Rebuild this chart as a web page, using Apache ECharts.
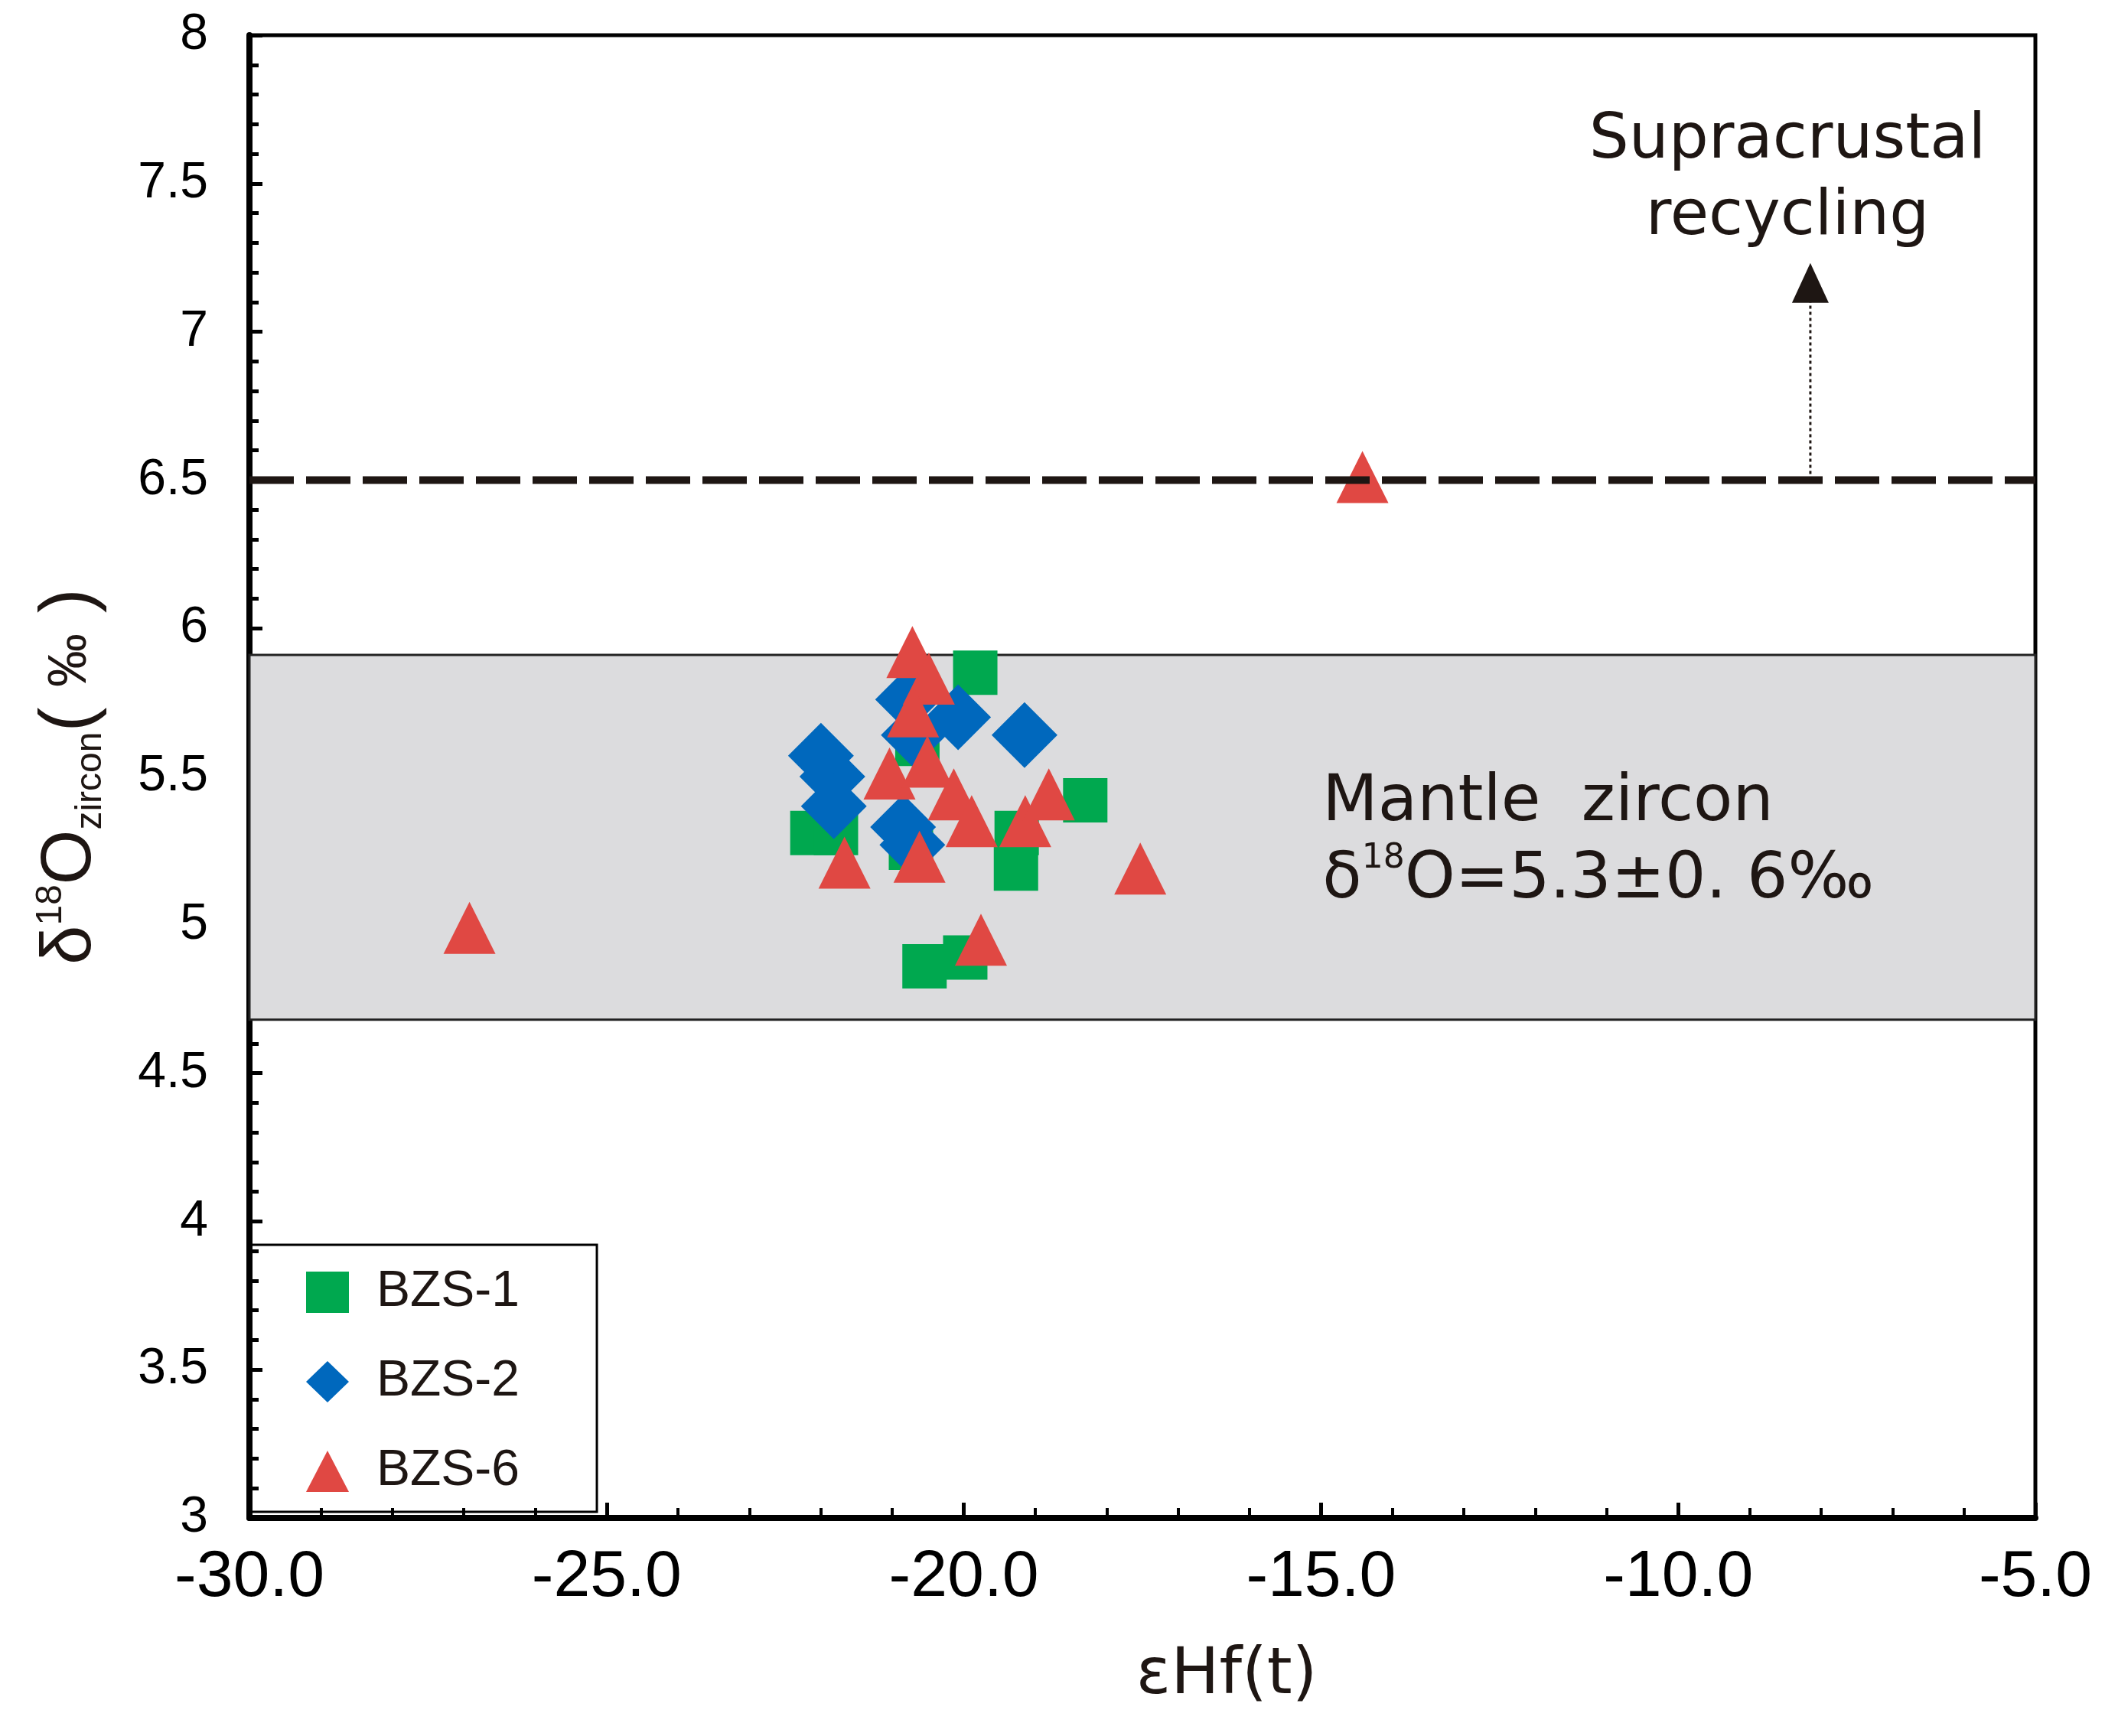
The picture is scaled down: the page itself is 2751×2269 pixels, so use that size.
<html lang="en">
<head>
  <meta charset="utf-8">
  <title>δ18O zircon vs εHf(t)</title>
  <script src="https://cdn.jsdelivr.net/npm/echarts@6/dist/echarts.min.js"></script>
  <style>
    html, body { margin: 0; padding: 0; background: #fff; }
    #main { width: 2751px; height: 2269px; }
  </style>
</head>
<body>
  <div id="main"></div>
</body>
<script>
  // sample points: [eHf(t), d18O]
  var bzs1 = [[-19.84, 5.85], [-18.30, 5.42], [-22.12, 5.31], [-21.79, 5.31], [-20.65, 5.61],
    [-20.74, 5.26], [-19.26, 5.31], [-19.27, 5.19], [-20.55, 4.86], [-19.98, 4.89]];
  var bzs2 = [[-19.15, 5.64], [-20.08, 5.70], [-20.78, 5.76], [-22.00, 5.57], [-21.84, 5.50],
    [-21.82, 5.40], [-20.70, 5.64], [-20.85, 5.33], [-20.72, 5.27]];
  var bzs6 = [[-20.72, 5.92], [-20.49, 5.83], [-20.71, 5.72], [-21.04, 5.51], [-20.51, 5.55],
    [-20.14, 5.44], [-19.89, 5.35], [-19.14, 5.35], [-18.81, 5.44], [-21.67, 5.21],
    [-20.62, 5.23], [-17.53, 5.19], [-19.76, 4.95], [-26.92, 4.99], [-14.42, 6.51]];

  var mantleBand = [4.68, 5.91];      // 5.3 +- 0.6 permil
  var supraLimit = 6.5;
  var arrowX = -8.15;
  var arrowTop = 7.12;
  var xRange = [-30, -5];
  var yRange = [3, 8];

  var FONT = 'Liberation Sans, Arial, sans-serif';
  var WIDE = 'DejaVu Sans, sans-serif';   // annotations in the figure are set wider
  var INK = '#1e1613';

  var myChart = echarts.init(document.getElementById('main'));

  myChart.setOption({
    animation: false,
    backgroundColor: '#fff',
    grid: {
      left: 326, right: 91, top: 46, bottom: 285,
      outerBoundsMode: 'none', containLabel: false,
      show: true, borderColor: '#000', borderWidth: 5, backgroundColor: 'transparent'
    },
    xAxis: {
      type: 'value', min: xRange[0], max: xRange[1], interval: 5,
      axisLine: { lineStyle: { color: '#000', width: 8 } },
      axisTick: { inside: true, length: 20, lineStyle: { color: '#000', width: 5 } },
      minorTick: { show: true, splitNumber: 5, length: 13, lineStyle: { color: '#000', width: 4 } },
      splitLine: { show: false },
      axisLabel: {
        fontSize: 86, fontFamily: FONT, color: '#000', margin: 35,
        formatter: function (v) { return v.toFixed(1); }
      }
    },
    yAxis: {
      type: 'value', min: yRange[0], max: yRange[1], interval: 0.5,
      axisLine: { lineStyle: { color: '#000', width: 8 } },
      axisTick: { inside: true, length: 17, lineStyle: { color: '#000', width: 5 } },
      minorTick: { show: true, splitNumber: 5, length: 12, lineStyle: { color: '#000', width: 5 } },
      splitLine: { show: false },
      axisLabel: { fontSize: 66, fontFamily: FONT, color: '#000', margin: 54 },
      name: '{b|δ}{sup|18}{b|O}{sub|zircon}{p|( }{q|‰}{p| )}',
      nameLocation: 'middle',
      nameRotate: 90,
      nameGap: 183,
      nameMoveOverlap: false,
      nameTextStyle: {
        rich: {
          b: { fontSize: 92, lineHeight: 100, fontFamily: FONT, color: INK },
          sup: { fontSize: 48, lineHeight: 80, verticalAlign: 'top', fontFamily: FONT, color: INK },
          sub: { fontSize: 48, lineHeight: 34, verticalAlign: 'bottom', fontFamily: FONT, color: INK },
          p: { fontSize: 96, lineHeight: 100, fontFamily: FONT, color: INK },
          q: { fontSize: 70, lineHeight: 100, fontFamily: FONT, color: INK }
        }
      }
    },
    legend: {
      data: ['BZS-1', 'BZS-2', 'BZS-6'],
      orient: 'vertical',
      left: 326, top: 1627,
      padding: [29, 101, 20, 74],
      itemWidth: 56, itemHeight: 54, itemGap: 51,
      borderColor: '#000', borderWidth: 3,
      backgroundColor: 'transparent',
      textStyle: { fontSize: 66, fontFamily: FONT, color: INK, padding: [0, 0, 0, 31] }
    },
    series: [
      {
        name: 'band', type: 'scatter', data: [], z: 1,
        markArea: {
          silent: true,
          itemStyle: { color: '#dcdcde', borderColor: '#222', borderWidth: 3 },
          data: [[{ coord: [xRange[0], mantleBand[1]] }, { coord: [xRange[1], mantleBand[0]] }]]
        }
      },
      {
        name: 'BZS-1', type: 'scatter', z: 2, data: bzs1,
        symbol: 'rect', symbolSize: 58, itemStyle: { color: '#00a84f', opacity: 1 }
      },
      {
        name: 'BZS-2', type: 'scatter', z: 2, data: bzs2,
        symbol: 'diamond', symbolSize: 86, itemStyle: { color: '#0068bd', opacity: 1 }
      },
      {
        name: 'BZS-6', type: 'scatter', z: 2, data: bzs6,
        symbol: 'triangle', symbolSize: 68, itemStyle: { color: '#e04843', opacity: 1 }
      },
      {
        name: 'limit', type: 'line', z: 5, symbol: 'none', silent: true,
        data: [[xRange[0], supraLimit], [xRange[1], supraLimit]],
        lineStyle: { color: INK, width: 10, type: [58, 16] }
      },
      {
        name: 'arrow', type: 'line', z: 5, symbol: 'none', silent: true,
        data: [[arrowX, supraLimit], [arrowX, arrowTop]],
        lineStyle: { color: INK, width: 3, type: [4, 4] }
      },
      {
        name: 'arrowhead', type: 'scatter', z: 5, silent: true,
        data: [[arrowX, 7.165]],
        symbol: 'triangle', symbolSize: [48, 52], itemStyle: { color: INK, opacity: 1 }
      }
    ]
  });

  // annotation texts placed from data coordinates
  function px(x, y) { return myChart.convertToPixel({ gridIndex: 0 }, [x, y]); }
  var mantle = px(-14.98, 5.33);
  var supra = px(-8.47, 7.65);
  var xt = px(-16.32, 3);

  myChart.setOption({
    graphic: [
      {
        type: 'text', x: mantle[0], y: mantle[1] - 30 + 50, z: 10,
        style: {
          text: '{a|Mantle  zircon}\n{a|δ}{s|18}{a|O=5.3±0. 6‰}',
          textAlign: 'left', textVerticalAlign: 'middle',
          rich: {
            a: { fontSize: 84, lineHeight: 101, fontFamily: WIDE, fill: INK },
            s: { fontSize: 44, lineHeight: 80, verticalAlign: 'top', fontFamily: WIDE, fill: INK }
          }
        }
      },
      {
        type: 'text', x: supra[0], y: 235, z: 10,
        style: {
          text: 'Supracrustal\nrecycling',
          textAlign: 'center', textVerticalAlign: 'middle',
          fontSize: 82, lineHeight: 100, fontFamily: WIDE, fill: INK
        }
      },
      {
        type: 'text', x: xt[0], y: 2191, z: 10,
        style: {
          text: 'εHf(t)', textAlign: 'center', textVerticalAlign: 'middle',
          fontSize: 84, fontFamily: WIDE, fill: INK
        }
      }
    ]
  });
</script>
</html>
